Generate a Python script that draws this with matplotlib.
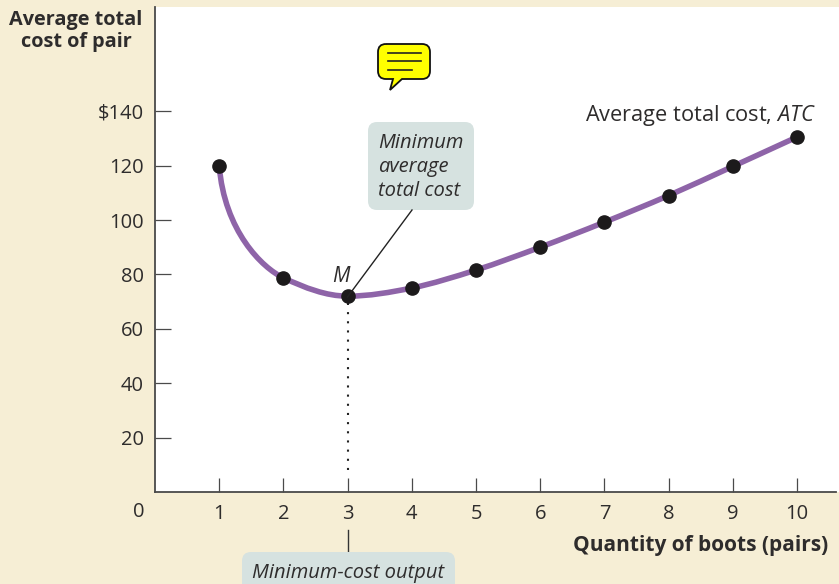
import matplotlib
matplotlib.use('Agg')
import matplotlib.pyplot as plt
import numpy as np
from matplotlib.path import Path
from matplotlib.patches import PathPatch, FancyBboxPatch
from matplotlib.lines import Line2D

quantity = [1, 2, 3, 4, 5, 6, 7, 8, 9, 10]
atc = [120, 78.75, 72, 75, 81.6, 90, 99.2, 109, 119.7, 130.5]
yticks = [20, 40, 60, 80, 100, 120, 140]
yticklabels = ['20', '40', '60', '80', '100', '120', '$140']

W, H = 839, 584
bg = '#f6eed5'
txt = '#2e2c2c'
purple = '#8e64a8'
boxcol = '#d6e2e0'
font = 'Open Sans'
fs = 14.5

plt.rcParams['font.family'] = font
plt.rcParams['mathtext.fontset'] = 'custom'
plt.rcParams['mathtext.it'] = font + ':italic'
plt.rcParams['mathtext.rm'] = font

fig = plt.figure(figsize=(W/100, H/100), dpi=100, facecolor=bg)
x0, y0, ytop = 155.0, 492.0, 7.0
ax = fig.add_axes([x0/W, 1-y0/H, (W-x0)/W, (y0-ytop)/H])
ax.set_xlim(0, (W-x0)/64.2)
ax.set_ylim(0, (y0-ytop)/2.72)
ax.set_facecolor('white')

for s in ['top', 'right']:
    ax.spines[s].set_visible(False)
for s in ['left', 'bottom']:
    ax.spines[s].set_color('#4a4a4a')
    ax.spines[s].set_linewidth(1.3)
ax.spines['bottom'].set_bounds(0, (836-x0)/64.2)

ax.set_xticks(quantity)
ax.set_yticks(yticks)
ax.set_yticklabels(yticklabels)
ax.tick_params(axis='x', direction='in', length=10, width=0.9, color='#4a4a4a',
               labelsize=fs, labelcolor=txt, pad=8.5)
ax.tick_params(axis='y', direction='in', length=11.5, width=0.9, color='#4a4a4a',
               labelsize=fs, labelcolor=txt, pad=8)

# smooth curve through the points, bezier segments in data coords
q = np.array(quantity, dtype=float)
c = np.array(atc, dtype=float)
dx = np.gradient(q)
dy = np.gradient(c)
dy[1] = -11.0
dy[2] = 0.0
verts = [(q[0], c[0])]
codes = [Path.MOVETO]
for i in range(len(q)-1):
    h = 1/3
    if i == 0:
        verts += [(q[0]+0.08, c[0]-24), (q[1]-0.33, c[1]+3.6), (q[1], c[1])]
    else:
        verts += [(q[i]+h*dx[i], c[i]+h*dy[i]),
                  (q[i+1]-h*dx[i+1], c[i+1]-h*dy[i+1]), (q[i+1], c[i+1])]
    codes += [Path.CURVE4]*3
ax.add_patch(PathPatch(Path(verts, codes), fill=False, edgecolor=purple, lw=4, zorder=3,
                       capstyle='round'))

ax.plot([3, 3], [8, atc[2]], color='#222222', lw=1.5, linestyle=(0, (1, 3.4)), zorder=2)
ax.plot(quantity, atc, 'o', color='#1c1a1b', ms=9.5, zorder=4, clip_on=False)


def fx(px):
    return px/W


def fy(py):
    return 1-py/H


# "0" on the x axis and axis titles
fig.text(fx(139), fy(512), '0', ha='center', va='center', fontsize=fs, color=txt)
fig.text(fx(76), fy(31), 'Average total\ncost of pair', ha='center', va='center', fontsize=14.3,
         fontweight='bold', color=txt, linespacing=1.2)
fig.text(fx(828), fy(545), 'Quantity of boots (pairs)', ha='right', va='center', fontsize=15,
         fontweight='bold', color=txt)
fig.text(fx(816), fy(115), 'Average total cost, $\\mathit{ATC}$', ha='right', va='center',
         fontsize=15.7, color=txt)
fig.text(fx(341), fy(276), 'M', ha='center', va='center', fontsize=15, style='italic', color=txt)


def rbox(left, top, right, bottom, color, rad=9):
    p = FancyBboxPatch((left+rad, bottom+rad), right-left-2*rad, top-bottom-2*rad,
                       boxstyle='round,pad=%d,rounding_size=%d' % (rad, rad),
                       transform=None, facecolor=color, edgecolor='none', zorder=5)
    fig.add_artist(p)
    return p


# callout boxes, pixel coords with origin at bottom left
rbox(368, H-122, 474, H-210, boxcol)
fig.text(fx(378), fy(167), 'Minimum\naverage\ntotal cost', ha='left', va='center', fontsize=fs,
         style='italic', color=txt, linespacing=1.27, zorder=6)
rbox(242, H-552, 455, H-600, boxcol)
fig.text(fx(348), fy(573), 'Minimum-cost output', ha='center', va='center', fontsize=fs,
         style='italic', color=txt, zorder=6)

fig.add_artist(Line2D([fx(347.5)]*2, [fy(530), fy(552)], color='#333333', lw=1))
fig.add_artist(Line2D([fx(347.5), fx(412)], [fy(297), fy(210)], color='#222222', lw=1, zorder=6))

# note icon
bub = [(386, 44), (422, 44), (430, 44), (430, 52), (430, 71), (430, 79), (422, 79),
       (402, 79), (390, 90), (393, 79), (386, 79), (378, 79), (378, 71), (378, 52),
       (378, 44), (386, 44)]
bcodes = [Path.MOVETO, Path.LINETO, Path.CURVE3, Path.CURVE3, Path.LINETO, Path.CURVE3, Path.CURVE3,
          Path.LINETO, Path.LINETO, Path.LINETO, Path.LINETO, Path.CURVE3, Path.CURVE3, Path.LINETO,
          Path.CURVE3, Path.CURVE3]
fig.add_artist(PathPatch(Path([(fx(a), fy(b)) for a, b in bub], bcodes), transform=fig.transFigure,
                         facecolor='#ffff00', edgecolor='#111111', lw=1.3, joinstyle='miter'))
for ly, xr in [(53, 421), (61, 421), (70, 412)]:
    fig.add_artist(Line2D([fx(388), fx(xr)], [fy(ly), fy(ly)], color='#222222', lw=1.2))

fig.savefig('out.png', dpi=100, facecolor=bg)
